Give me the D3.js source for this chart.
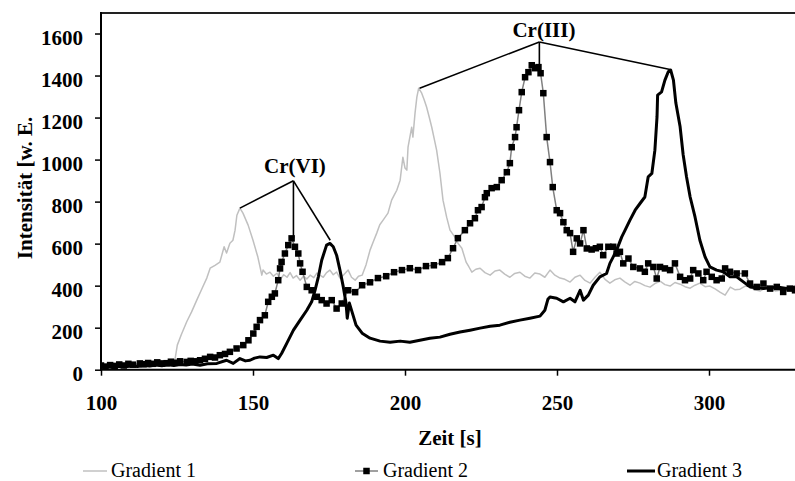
<!DOCTYPE html>
<html><head><meta charset="utf-8">
<script src="https://cdn.jsdelivr.net/npm/d3@7"></script>
<style>html,body{margin:0;padding:0;background:#fff;}svg{display:block;}</style>
</head><body>
<script>
// ---- data ----
const seriesNames = ["Gradient 1", "Gradient 2", "Gradient 3"];
const xTicks = [100, 150, 200, 250, 300];
const yTicks = [0, 200, 400, 600, 800, 1000, 1200, 1400, 1600];

const g1Time = [100,102,104,106,108,110,112,114,116,118,120,122,123.5,124.3,125.1,126.5,128.2,129.8,131.5,133.2,134.8,135.9,137.5,139.1,140.5,141.3,142.4,143.4,144.1,144.7,145.7,146.7,148.4,150.0,151.6,152.9,153.3,154.4,155.6,156.7,157.9,159.0,160.1,161.2,162.2,163.2,164.3,165.5,166.6,167.7,168.8,170.0,171.0,172.0,173.1,174.2,175.3,176.4,177.5,178.6,179.7,181.3,182.4,183.6,184.7,185.9,187.2,188.5,189.6,190.7,191.7,192.8,194.4,195.6,196.4,197.3,198.4,199.3,200.0,200.6,201.0,202.2,202.6,203.3,203.9,204.5,205.5,206.3,207.1,208.0,208.8,209.6,210.4,211.5,212.5,213.7,214.8,216.4,217.5,218.7,220.1,221.0,222.0,223.3,224.7,226.3,228.0,229.6,231.2,232.8,234.5,236.1,237.8,239.4,241.1,242.7,244.4,246.0,247.7,249.3,251.0,252.6,254.3,255.9,257.6,259.2,260.9,262.5,264.1,265.8,267.4,269.0,270.7,272.3,274.0,275.6,277.3,278.9,280.6,282.2,283.9,285.5,287.2,288.8,290.5,292.1,293.8,295.4,297.0,298.7,300.3,302.0,303.6,305.3,307.0,308.6,310.2,311.9,313.5,315.1,316.8,318.5,320.1,321.8,323.4,325.0,326.7,328.3];
const g1Val = [16,20,14,18,22,15,19,24,17,21,18,23,20,45,117,170,228,275,331,385,436,483,497,512,585,555,602,616,664,735,769,745,688,616,536,450,474,455,464,445,459,430,452,440,462,436,448,426,445,432,450,438,460,450,440,462,474,452,465,436,450,474,440,426,445,450,500,569,610,650,690,712,745,807,830,854,902,1011,960,950,1059,1154,1107,1221,1297,1340,1316,1285,1250,1200,1154,1100,1045,935,807,726,664,631,600,578,512,490,464,478,483,462,450,470,474,455,440,458,464,445,436,460,455,440,474,450,436,430,417,440,450,425,412,440,464,430,412,428,436,418,402,420,412,400,393,410,421,405,398,415,407,395,388,402,412,395,398,385,369,355,393,380,383,398,393,380,374,390,388,375,378,390,380,383];

const g2Time = [100,101.5,103,104.5,106,107.5,109,110.5,112.8,114,115.5,117,118.5,120,121.6,123,124.5,126,128.2,129.5,131,132.6,134.2,135.9,137.5,139.1,140.8,142.4,144.6,146.8,148.5,150.1,151.2,152.3,153.9,155.0,156.2,157.2,158.3,158.9,159.4,160.5,161.6,162.7,163.8,164.9,165.5,166.3,167.7,169.3,171.0,172.6,174.2,175.9,177.5,179.2,181.3,183.6,185.9,188.5,191.1,193.8,196.4,199.0,201.6,204.3,206.9,209.5,212.2,214.1,215.8,217.4,219.7,221.4,223.0,224.0,225.2,226.3,226.9,228.5,230.2,231.8,233.5,234.5,235.1,236.2,236.7,237.5,238.4,239.5,240.6,241.7,242.8,243.9,244.6,245.5,246.6,247.7,248.6,249.9,251.0,252.1,253.2,254.3,255.3,256.5,257.6,258.7,259.8,261.4,262.8,264.1,265.2,266.9,268.5,269.6,270.7,271.8,273.5,275.1,277.3,278.9,280.0,281.7,282.8,283.9,285.5,287.2,288.8,290.5,292.1,293.8,294.8,296.5,298.1,299.2,300.9,302.5,304.2,305.3,306.9,309.1,311.8,313.5,315.7,317.9,320.1,322.3,324.4,326.6,328.3];
const g2Val = [20,15,22,18,25,20,28,24,30,26,32,28,35,30,31,38,33,40,37,42,40,45,52,61,58,69,75,85,101,117,140,172,204,236,259,323,347,363,426,482,513,553,593,625,585,553,506,466,394,378,347,331,315,331,291,315,378,369,402,416,436,445,464,474,483,474,493,497,512,531,578,626,664,697,721,759,774,821,840,864,869,902,940,983,1059,1107,1154,1235,1321,1392,1416,1449,1435,1440,1411,1316,1107,988,869,759,745,702,664,650,561,625,601,664,577,572,578,585,545,585,585,553,561,506,529,489,482,466,506,489,434,489,482,474,506,442,426,434,474,458,426,466,442,426,434,482,466,458,458,410,394,410,386,394,370,386,378];

const g3Time = [100,102,104,106,108,110,112,114,116,118,120,122,124,126,128,130,132.6,135,138.1,141.3,143.5,145.7,147.5,149.0,150.5,152.3,154.5,156.7,158.3,159.4,161.1,163.3,165.5,167.7,169.3,170.4,171.5,172.6,174.2,175.3,176.4,177.5,178.6,179.7,180.6,181.0,181.7,182.6,183.9,185.9,188.5,191.8,195.1,198.4,201.6,204.9,208.2,211.5,214.8,218.1,221.4,224.7,228.0,231.2,234.5,237.8,241.1,244.4,246.0,247.0,247.7,249.9,252.1,254.3,255.9,257.6,258.7,260.3,261.9,264.1,266.3,267.4,268.5,269.6,271.3,272.4,274.0,275.7,277.3,278.9,280.0,281.2,282.2,282.9,283.1,284.4,285.5,286.6,287.4,288.3,289.1,290.5,291.5,292.6,293.8,295.4,297.0,298.7,300.3,302.5,304.7,306.9,309.1,311.3,313.5,317.9,322.3,325.6,328.3];
const g3Val = [12,15,10,16,14,18,15,20,18,22,19,24,20,25,22,27,21,28,30,45,30,53,42,45,55,61,58,69,53,77,125,188,236,283,323,378,442,521,593,601,585,545,474,394,317,245,317,274,212,174,150,136,131,136,131,140,150,155,169,179,188,198,207,212,226,236,245,255,283,335,346,340,323,340,323,378,331,355,402,442,458,506,537,569,632,664,712,759,791,822,918,934,1045,1203,1307,1322,1378,1418,1426,1378,1269,1156,1023,918,822,727,616,537,489,474,466,442,442,418,394,387,394,387,394];

// annotations: label, label position, apex, target peaks (time, value)
const annLabels = ["Cr(VI)", "Cr(III)"];
const annLabelPos = [[163.8, 935], [245.7, 1583]];
const annApex = [[163.3, 899], [244.2, 1560]];
const annTargets = [
  [[145.7, 769], [163.3, 626], [175.4, 616]],
  [[204.8, 1340], [244.2, 1450], [287.2, 1429]]
];

const xTitle = "Zeit [s]";
const yTitle = "Intensität [w. E.";

// ---- layout ----
const W = 795, H = 481;
const SERIF = "'Liberation Serif','Times New Roman',serif";
const svg = d3.select("body").append("svg").attr("width", W).attr("height", H)
  .attr("font-family", SERIF);

const x = d3.scaleLinear().domain([100, 330]).range([101, 800.2]);
const y = d3.scaleLinear().domain([0, 1700]).range([369.7, 12.5]);

const zip = (ts, vs) => ts.map((t, i) => [t, vs[i]]);
const g1 = zip(g1Time, g1Val), g2 = zip(g2Time, g2Val), g3 = zip(g3Time, g3Val);

const line = d3.line().x(d => x(d[0])).y(d => y(d[1]));

svg.append("defs").append("clipPath").attr("id", "clip")
  .append("rect").attr("x", 101).attr("y", 0).attr("width", W - 101).attr("height", 372);

const plot = svg.append("g").attr("clip-path", "url(#clip)");

plot.append("path").datum(g1).attr("d", line)
  .attr("fill", "none").attr("stroke", "#c0c0c0").attr("stroke-width", 1.5).attr("stroke-linejoin", "round");

plot.append("path").datum(g2).attr("d", line)
  .attr("fill", "none").attr("stroke", "#808080").attr("stroke-width", 1.5);
plot.selectAll("rect.m2").data(g2).enter().append("rect").attr("class", "m2")
  .attr("x", d => x(d[0]) - 3.25).attr("y", d => y(d[1]) - 3.25)
  .attr("width", 6.5).attr("height", 6.5).attr("fill", "#000");

plot.append("path").datum(g3).attr("d", line)
  .attr("fill", "none").attr("stroke", "#000").attr("stroke-width", 3).attr("stroke-linejoin", "round");

// frame: top border
svg.append("line").attr("x1", 101).attr("x2", W).attr("y1", 13).attr("y2", 13)
  .attr("stroke", "#222").attr("stroke-width", 2);

// axes
const yAxis = d3.axisLeft(y).tickValues(yTicks).tickSize(6).tickFormat(d3.format("d"));
const gy = svg.append("g").attr("transform", "translate(101,0)").call(yAxis);
gy.select(".domain").remove();
gy.attr("font-family", SERIF);
gy.selectAll(".tick line").attr("stroke", "#000").attr("stroke-width", 1.5);
gy.selectAll(".tick text").attr("x", -18).attr("dy", 0).attr("y", 10.5)
  .style("font-family", SERIF).style("font-size", "21px").style("font-weight", "bold").attr("fill", "#000");
svg.append("line").attr("x1", 101).attr("x2", 101).attr("y1", 12).attr("y2", 371)
  .attr("stroke", "#000").attr("stroke-width", 2);

const xAxis = d3.axisBottom(x).tickValues(xTicks).tickSize(6).tickFormat(d3.format("d"));
const gx = svg.append("g").attr("transform", "translate(0,369.7)").call(xAxis);
gx.select(".domain").remove();
gx.attr("font-family", SERIF);
gx.selectAll(".tick line").attr("stroke", "#000").attr("stroke-width", 1.5);
gx.selectAll(".tick text").attr("y", 40).attr("dy", 0)
  .style("font-family", SERIF).style("font-size", "21px").style("font-weight", "bold").attr("fill", "#000");
svg.append("line").attr("x1", 100).attr("x2", W).attr("y1", 369.7).attr("y2", 369.7)
  .attr("stroke", "#000").attr("stroke-width", 2);

// axis titles
svg.append("text").attr("x", 450).attr("y", 445).attr("text-anchor", "middle")
  .style("font-family", SERIF).style("font-size", "21px").style("font-weight", "bold").text(xTitle);
svg.append("text").attr("transform", "translate(31.5,188) rotate(-90)").attr("text-anchor", "middle")
  .style("font-family", SERIF).style("font-size", "21px").style("font-weight", "bold").text(yTitle);

// annotations
annLabels.forEach((lab, i) => {
  const ap = annApex[i];
  annTargets[i].forEach(tg => {
    svg.append("line").attr("x1", x(ap[0])).attr("y1", y(ap[1]))
      .attr("x2", x(tg[0])).attr("y2", y(tg[1]))
      .attr("stroke", "#000").attr("stroke-width", 1.6);
  });
  svg.append("text").attr("x", x(annLabelPos[i][0])).attr("y", y(annLabelPos[i][1]))
    .attr("text-anchor", "middle").style("font-family", SERIF)
    .style("font-size", "21px").style("font-weight", "bold").text(lab);
});

// legend
const legX = [[83, 107, 111], [355, 378, 383], [627, 655, 657]];
const legY = 471;
const leg = svg.append("g");
seriesNames.forEach((name, i) => {
  const [a, b, tx] = legX[i];
  if (i === 0) {
    leg.append("line").attr("x1", a).attr("x2", b).attr("y1", legY).attr("y2", legY)
      .attr("stroke", "#c0c0c0").attr("stroke-width", 1.5);
  } else if (i === 1) {
    leg.append("line").attr("x1", a).attr("x2", b).attr("y1", legY).attr("y2", legY)
      .attr("stroke", "#808080").attr("stroke-width", 1.5);
    leg.append("rect").attr("x", (a + b) / 2 - 3.25).attr("y", legY - 3.25)
      .attr("width", 6.5).attr("height", 6.5).attr("fill", "#000");
  } else {
    leg.append("line").attr("x1", a).attr("x2", b).attr("y1", legY).attr("y2", legY)
      .attr("stroke", "#000").attr("stroke-width", 3);
  }
  leg.append("text").attr("x", tx).attr("y", 477).style("font-family", SERIF)
    .style("font-size", "20px").text(name);
});
</script>
</body></html>
